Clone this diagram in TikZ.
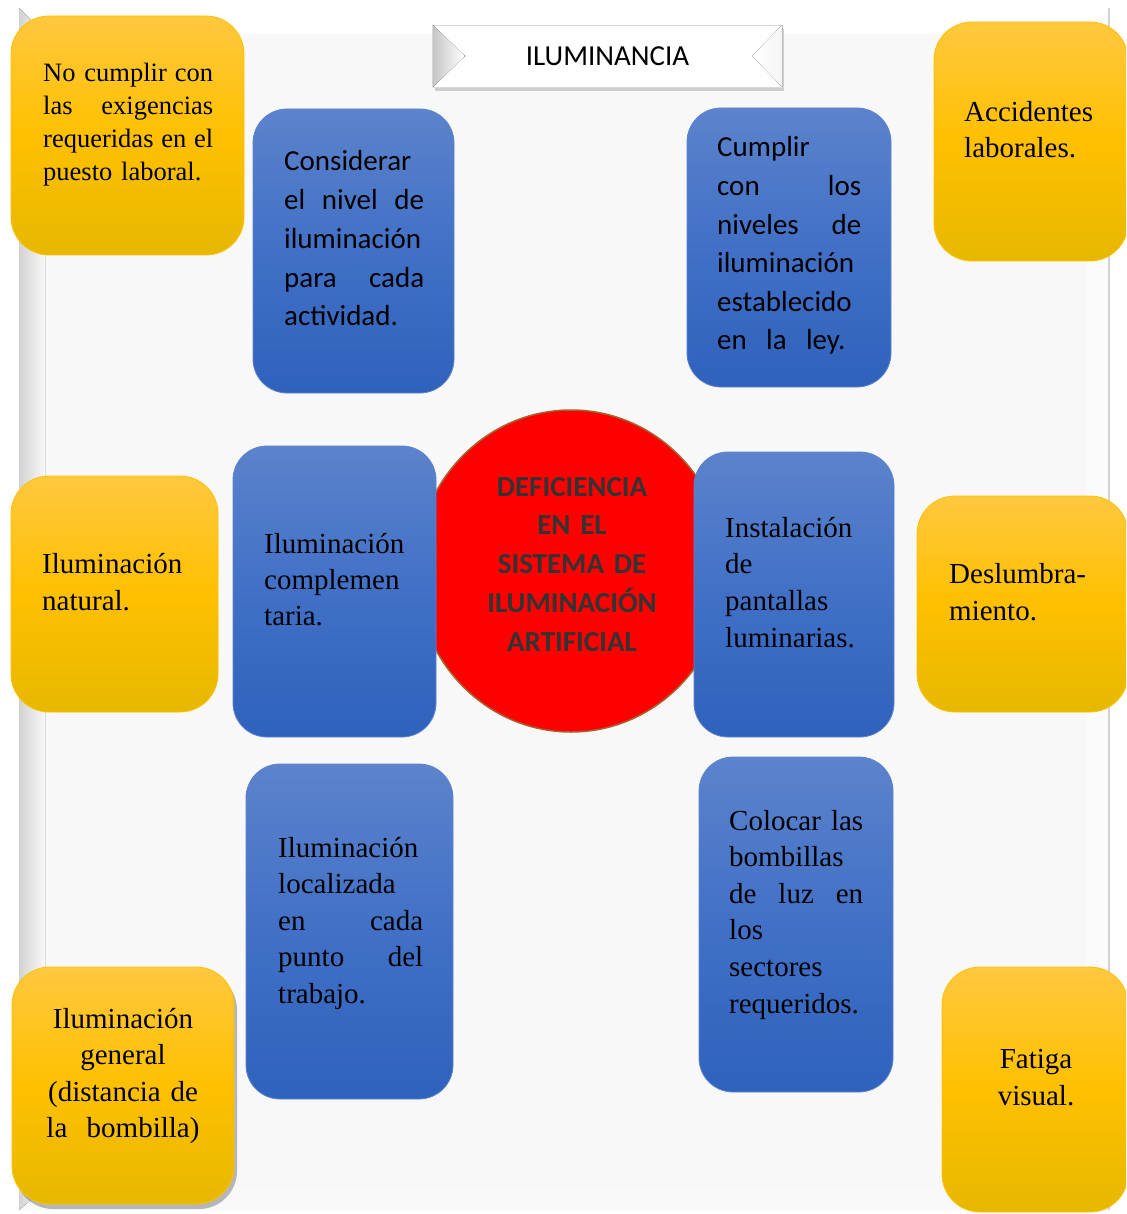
\documentclass[tikz,border=0pt]{standalone}
\usepackage{fontspec}
\setmainfont{Liberation Serif}
\newfontfamily\calibri{Carlito}
\usetikzlibrary{shapes.geometric,shadows,calc}

\definecolor{goldtop}{HTML}{FFC83F}
\definecolor{goldmid}{HTML}{FFC000}
\definecolor{goldbot}{HTML}{E6B800}
\definecolor{bluetop}{HTML}{5C83CC}
\definecolor{bluemid}{HTML}{4170C6}
\definecolor{bluebot}{HTML}{2F62BC}
\definecolor{panel}{HTML}{F8F8F8}
\definecolor{ringbrown}{HTML}{A5652E}
\definecolor{darktext}{HTML}{333333}

% one justified line of a given width, words split by \hfill
\newcommand{\jl}[2]{\leavevmode\hbox to #1{#2}}

\begin{document}
\begin{tikzpicture}[x=1pt,y=-1pt,
  gold box/.style 2 args={rectangle,rounded corners=38pt,draw=goldmid,line width=0.8pt,top color=goldtop,bottom color=goldbot,middle color=goldmid,minimum width=#1,minimum height=#2,inner sep=0pt},
  blue box/.style 2 args={rectangle,rounded corners=34pt,draw=bluetop,line width=0.8pt,top color=bluetop,bottom color=bluebot,middle color=bluemid,minimum width=#1,minimum height=#2,inner sep=0pt},
  serif text/.style 2 args={anchor=base west,inner sep=0pt,text width=#1,align=left,font=\fontsize{29}{#2}\selectfont},
  sans text/.style 2 args={anchor=base west,inner sep=0pt,text width=#1,align=left,font=\calibri\fontsize{29}{#2}\selectfont},
  mid text/.style 2 args={anchor=base,inner sep=0pt,text width=#1,align=center,font=\fontsize{29}{#2}\selectfont}]

  \useasboundingbox (0,0) rectangle (1126,1214);
  \clip (0,0) rectangle (1126,1214);
  \fill[white] (0,0) rectangle (1126,1214);

  % bevelled background panel
  \fill[panel] (19,8) rectangle (1109,1210);
  \fill[white] (19,8) -- (1109,8) -- (1087,34) -- (45,34) -- cycle;
  \fill[panel!50!white] (1109,8) -- (1109,1210) -- (1087,1188) -- (1087,34) -- cycle;
  \fill[gray!5] (19,1210) -- (1109,1210) -- (1087,1188) -- (45,1188) -- cycle;
  \fill[left color=gray!35,right color=panel] (19,8) -- (45,34) -- (45,1188) -- (19,1210) -- cycle;
  \draw[gray!35,line width=1.2pt] (1109,8) -- (1109,1210);

  % title
  \node[draw=gray!30,fill=white,minimum width=349pt,minimum height=62pt,inner sep=0pt,
        drop shadow={shadow xshift=2pt,shadow yshift=-4pt,opacity=.35},
        font=\calibri\fontsize{29}{34}\selectfont] (T) at (607.5,56) {ILUMINANCIA};
  \fill[left color=gray!45,right color=white] (T.north west) -- ($(T.west)+(32,0)$) -- (T.south west) -- cycle;
  \fill[right color=gray!8,left color=white] (T.north east) -- ($(T.east)+(-30,0)$) -- (T.south east) -- cycle;

  % central circle
  \node[ellipse,draw=ringbrown,line width=1.5pt,fill=red,minimum width=310pt,minimum height=322pt,inner sep=0pt] (D) at (571,571) {};
  \node[anchor=base,inner sep=0pt,text width=220pt,align=center,text=darktext,
        font=\calibri\bfseries\fontsize{29}{38.8}\selectfont] (Dt) at (572,496)
        {DEFICIENCIA\\ EN EL\\ SISTEMA DE\\ ILUMINACIÓN\\ ARTIFICIAL};

  % blue boxes
  \node[blue box={201pt}{284pt}] (B1) at (353.5,251) {};
  \node[blue box={204pt}{279pt}] (B2) at (789,247.5) {};
  \node[blue box={203pt}{291pt}] (B3) at (334.5,591.5) {};
  \node[blue box={200pt}{285pt}] (B4) at (794,594.5) {};
  \node[blue box={207pt}{335pt}] (B5) at (349.5,931.5) {};
  \node[blue box={194pt}{335pt}] (B6) at (796,924.5) {};

  % yellow boxes
  \node[gold box={233pt}{239pt}] (Y1) at (127.5,135.5) {};
  \node[gold box={194pt}{239pt}] (Y2) at (1031,141.5) {};
  \node[gold box={207pt}{236pt}] (Y3) at (114.5,594) {};
  \node[gold box={211pt}{216pt}] (Y4) at (1022.5,604) {};
  \node[gold box={222pt}{237pt},drop shadow={shadow xshift=3pt,shadow yshift=-5pt,fill=black!60,opacity=.45}] (Y5) at (123,1085.5) {};
  \node[gold box={186pt}{245pt}] (Y6) at (1035,1089.5) {};

  % texts of the blue boxes
  \node[sans text={140pt}{38.7}] (B1t) at (284,171)
    {Considerar\\ \jl{140pt}{el\hfill nivel\hfill de}\\ iluminación\\ \jl{140pt}{para\hfill cada}\\ actividad.};
  \node[sans text={144pt}{38.6}] (B2t) at (717,157)
    {Cumplir\\ \jl{144pt}{con\hfill los}\\ \jl{144pt}{niveles\hfill de}\\ iluminación\\ establecido\\ en\ \ la\ \ ley.};
  \node[serif text={160pt}{36}] (B3t) at (264,553)
    {Iluminación\\ complemen\\ taria.};
  \node[serif text={160pt}{36.7}] (B4t) at (725,537)
    {Instalación\\ de\\ pantallas\\ luminarias.};
  \node[serif text={145pt}{36.5}] (B5t) at (278,857)
    {Iluminación\\ localizada\\ \jl{145pt}{en\hfill cada}\\ \jl{145pt}{punto\hfill del}\\ trabajo.};
  \node[serif text={134pt}{36.6}] (B6t) at (729,830)
    {\jl{134pt}{Colocar\hfill las}\\ bombillas\\ \jl{134pt}{de\hfill luz\hfill en}\\ los\\ sectores\\ requeridos.};

  % texts of the yellow boxes
  \node[anchor=base west,inner sep=0pt,text width=170pt,align=left,font=\fontsize{26.5}{33}\selectfont] (Y1t) at (43,82)
    {\jl{170pt}{No cumplir\hfill con}\\ \jl{170pt}{las\hfill exigencias}\\ \jl{170pt}{requeridas\hfill en\hfill el}\\ puesto laboral.};
  \node[serif text={150pt}{36}] (Y2t) at (964,122) {Accidentes\\ laborales.};
  \node[serif text={160pt}{37.5}] (Y3t) at (42,573) {Iluminación\\ natural.};
  \node[serif text={160pt}{37}] (Y4t) at (949,583) {Deslumbra-\\ miento.};
  \node[mid text={210pt}{36.5}] (Y5t) at (123,1028)
    {Iluminación\\ general\\ (distancia de\\ la\ \ bombilla)};
  \node[mid text={170pt}{37}] (Y6t) at (1036,1068) {Fatiga\\ visual.};
\end{tikzpicture}
\end{document}
